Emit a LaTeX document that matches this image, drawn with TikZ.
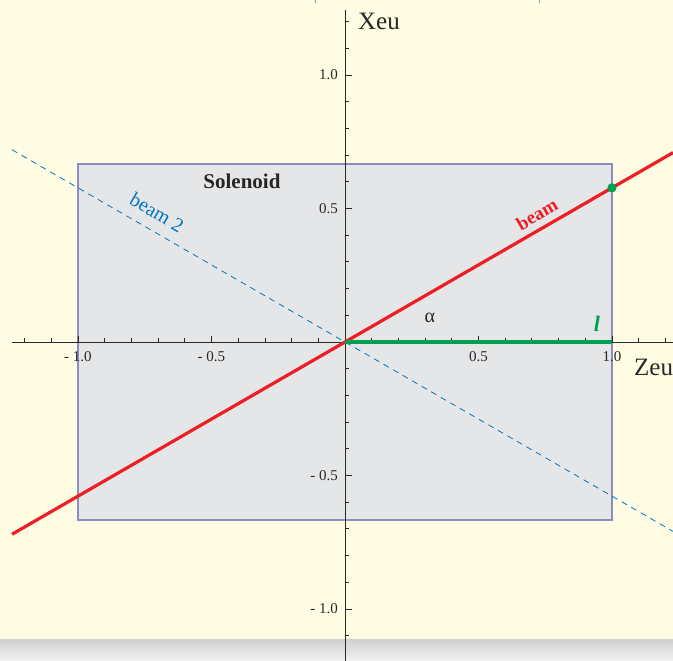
\documentclass[tikz,border=0pt]{standalone}
\usepackage{fontspec}
\setmainfont{Liberation Serif}
\definecolor{cream}{RGB}{255,252,228}
\definecolor{solfill}{RGB}{229,230,232}
\definecolor{solborder}{RGB}{140,140,196}
\definecolor{beamred}{RGB}{237,30,36}
\definecolor{lgreen}{RGB}{0,160,80}
\definecolor{beamblue}{RGB}{0,118,192}
\definecolor{axiscol}{RGB}{40,40,40}
\begin{document}
\begin{tikzpicture}[x=267pt,y=267pt,
  axisline/.style={draw=axiscol,line width=0.8pt},
  ticklab/.style={inner sep=0pt,font=\fontsize{15}{15}\selectfont,text=axiscol},
  axlab/.style={inner sep=0pt,font=\fontsize{25}{25}\selectfont,text=axiscol},
  beamline/.style={draw=beamred,line width=3.2pt},
  beamtwo/.style={draw=beamblue,line width=0.8pt,dash pattern=on 6pt off 5pt},
  lline/.style={draw=lgreen,line width=3.8pt},
  solbox/.style={fill=solfill,draw=solborder,line width=1.1pt}]
\useasboundingbox (-345pt,-319pt) rectangle (328pt,342pt);
\fill[cream] (-345pt,-319pt) rectangle (328pt,342pt);
\shade[top color=black!18,bottom color=black!5] (-345pt,-319pt) rectangle (328pt,-298pt);
% remnants at top edge
\draw[black!55,line width=0.6pt] (-30pt,342pt) to[bend right=20] (-29pt,339pt);
\draw[black!55,line width=0.6pt] (195pt,342pt) to[bend left=20] (194pt,339pt);
% solenoid
\path[solbox] (-1,-2/3) rectangle (1,2/3);
% coordinates
\coordinate (O) at (0,0);
\coordinate (xl) at (-1.247,0);
\coordinate (xr) at (328pt,0);
\coordinate (yb) at (0,-319pt);
\coordinate (yt) at (0,332pt);
\coordinate (bA) at (-1.247,-0.7200);
\coordinate (bB) at (1.2285,0.7093);
\coordinate (cA) at (-1.247,0.7200);
\coordinate (cB) at (1.2285,-0.7093);
\coordinate (lend) at (1,0);
\coordinate (P) at (1,0.57735);
% axes
\draw[axisline] (xl) -- (xr);
\draw[axisline] (yb) -- (yt);
\foreach \i in {-12,-11,...,-1,1,2,...,12}{
  \pgfmathsetmacro\len{ifthenelse(mod(abs(\i),5)==0,6,4)}
  \draw[axisline] (\i/10,0) -- ++(0,\len pt);
}
\foreach \i in {-11,-10,...,-1,1,2,...,12}{
  \pgfmathsetmacro\len{ifthenelse(mod(abs(\i),5)==0,7,4)}
  \draw[axisline] (0,\i/10) -- ++(\len pt,0);
}
\node[ticklab] (zm1) at (-1,-15pt) {- 1.0};
\node[ticklab] (zm05) at (-0.5,-15pt) {- 0.5};
\node[ticklab] (zp05) at (0.5,-15pt) {0.5};
\node[ticklab] (zp1) at (1,-15pt) {1.0};
\node[ticklab,anchor=east] (xp1) at (-7pt,1) {1.0};
\node[ticklab,anchor=east] (xp05) at (-7pt,0.5) {0.5};
\node[ticklab,anchor=east] (xm05) at (-7pt,-0.5) {- 0.5};
\node[ticklab,anchor=east] (xm1) at (-7pt,-1) {- 1.0};
\node[axlab,anchor=west] (Xeu) at (13pt,1.199) {Xeu};
\node[axlab,anchor=west] (Zeu) at (289pt,-0.094) {Zeu};
% beams
\draw[beamtwo] (cA) -- (cB);
\draw[beamline] (bA) -- (bB);
\draw[lline] (O) -- (lend);
\fill[lgreen] (P) circle (4.6pt);
% labels
\node[inner sep=0pt,font=\bfseries\fontsize{21}{21}\selectfont,text=black!85] (sol) at (-0.386,0.60) {Solenoid};
\node[inner sep=0pt,rotate=-30,font=\fontsize{20}{20}\selectfont,text=beamblue] (b2) at (-0.704,0.485) {beam 2};
\node[inner sep=0pt,rotate=30,font=\bfseries\fontsize{19}{19}\selectfont,text=beamred] (b1) at (0.719,0.478) {beam};
\node[inner sep=0pt,font=\fontsize{20}{20}\selectfont,text=axiscol] (alpha) at (0.318,0.090) {α};
\node[inner sep=0pt,font=\bfseries\itshape\fontsize{22}{22}\selectfont,text=lgreen] (ll) at (0.944,0.068) {l};
\end{tikzpicture}
\end{document}
